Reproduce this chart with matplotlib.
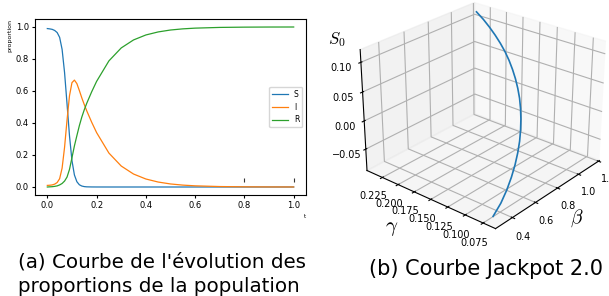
import matplotlib
matplotlib.use("Agg")
import matplotlib.pyplot as plt
import numpy as np

plt.rcParams['mathtext.fontset'] = 'cm'

# --- (a) SIR proportions ---
t = [0.00, 0.01, 0.02, 0.03, 0.04, 0.05, 0.06, 0.07, 0.08, 0.09,
     0.10, 0.11, 0.12, 0.13, 0.14, 0.15, 0.16, 0.18, 0.20, 0.25,
     0.30, 0.35, 0.40, 0.45, 0.50, 0.55, 0.60, 0.70, 0.80, 0.90, 1.00]
S = [0.990, 0.988, 0.985, 0.978, 0.965, 0.935, 0.860, 0.715, 0.520, 0.320,
     0.165, 0.075, 0.033, 0.014, 0.006, 0.0025, 0.001, 0.0003, 0.0001, 0.0,
     0.0, 0.0, 0.0, 0.0, 0.0, 0.0, 0.0, 0.0, 0.0, 0.0, 0.0]
I = [0.010, 0.011, 0.013, 0.018, 0.028, 0.052, 0.118, 0.248, 0.418, 0.570,
     0.652, 0.668, 0.646, 0.603, 0.557, 0.515, 0.476, 0.405, 0.340, 0.212,
     0.131, 0.081, 0.050, 0.031, 0.019, 0.0118, 0.0073, 0.0028, 0.0011, 0.0004, 0.0002]
R = [0.000, 0.001, 0.002, 0.004, 0.007, 0.013, 0.022, 0.037, 0.062, 0.110,
     0.183, 0.257, 0.321, 0.383, 0.437, 0.4825, 0.523, 0.5947, 0.6599, 0.788,
     0.869, 0.919, 0.950, 0.969, 0.981, 0.9882, 0.9927, 0.9972, 0.9989, 0.9996, 0.9998]
marks_t = [0.8, 1.0]
marks_y = [0.044, 0.044]

# --- (b) Jackpot curve (beta, gamma, S0) ---
beta = [0.300, 0.385, 0.465, 0.541, 0.613, 0.681, 0.744, 0.802, 0.857, 0.907,
        0.953, 0.994, 1.031, 1.063, 1.092, 1.116, 1.135, 1.150, 1.161, 1.168, 1.170]
gamma = [0.0680, 0.0715, 0.0766, 0.0826, 0.0892, 0.0964, 0.1039, 0.1119, 0.1203, 0.1289,
         0.1378, 0.1471, 0.1566, 0.1662, 0.1762, 0.1863, 0.1967, 0.2073, 0.2180, 0.2288, 0.2400]
s0 = [-0.079, -0.0695, -0.060, -0.0505, -0.041, -0.0315, -0.022, -0.0125, -0.003, 0.0065,
      0.016, 0.0255, 0.035, 0.0445, 0.054, 0.0635, 0.073, 0.0825, 0.092, 0.1015, 0.111]

fig = plt.figure(figsize=(6.09, 2.96), dpi=100)

ax = fig.add_axes([35/609, 101/296, 271/609, 176/296])
ax.plot(t, S, label='S', lw=0.9)
ax.plot(t, I, label='I', lw=0.9)
ax.plot(t, R, label='R', lw=0.9)
ax.plot(marks_t, marks_y, '|', color='#333333', ms=3, mew=0.8)
ax.set_ylabel('proportion', fontsize=4.5, labelpad=2, loc='top')
ax.set_xlabel('t', fontsize=4, loc='right', labelpad=3)
ax.tick_params(labelsize=6, length=2.5, width=0.8, pad=2)
ax.set_xticks([0.0, 0.2, 0.4, 0.6, 0.8, 1.0])
ax.set_yticks([0.0, 0.2, 0.4, 0.6, 0.8, 1.0])
ax.legend(loc='center right', fontsize=5.5, handlelength=2.0, borderaxespad=0.5)

ax3 = fig.add_axes([0.509, 0.1605, 0.56, 0.93], projection='3d')
ax3.plot(beta, gamma, s0, lw=1.2)
ax3.set_xlim(0.26, 1.21)
ax3.set_ylim(0.058, 0.25)
ax3.set_zlim(-0.089, 0.121)
ax3.set_proj_type('persp', focal_length=0.7)
ax3.view_init(elev=26, azim=-140)
ax3.set_box_aspect((4, 4, 3.15), zoom=0.968)
ax3.set_xticks([0.4, 0.6, 0.8, 1.0, 1.2])
ax3.set_yticks([0.075, 0.100, 0.125, 0.150, 0.175, 0.200, 0.225])
ax3.set_zticks([-0.05, 0.00, 0.05, 0.10])
ax3.tick_params(labelsize=7, pad=0)

# axis names placed where they sit in the picture
fig.text(337/609, 1 - 40/296, r'$S_0$', fontsize=12, ha='center', va='center')
fig.text(392/609, 1 - 228/296, r'$\gamma$', fontsize=15, ha='center', va='center')
fig.text(577/609, 1 - 218/296, r'$\beta$', fontsize=14, ha='center', va='center')

fig.text(18/609, 1 - 267/296, "(a) Courbe de l'évolution des",
         fontsize=14.3, ha='left', va='baseline')
fig.text(18/609, 1 - 292/296, "proportions de la population",
         fontsize=14.3, ha='left', va='baseline')
fig.text(486/609, 1 - 275/296, "(b) Courbe Jackpot 2.0", fontsize=15, ha='center', va='baseline')

fig.savefig('out.png', dpi=100)
